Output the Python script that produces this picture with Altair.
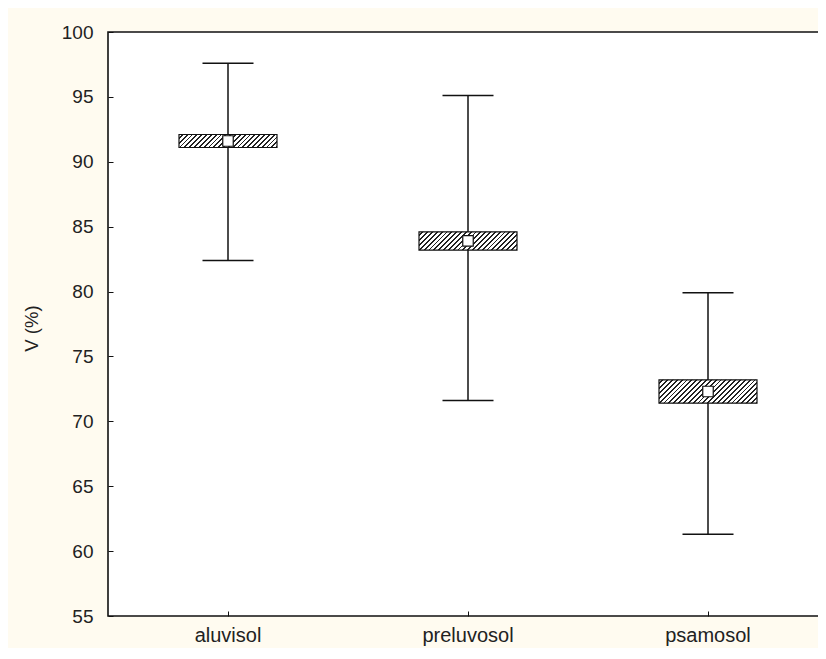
import altair as alt
import pandas as pd

# ---- data ----
categories = ["aluvisol", "preluvosol", "psamosol"]
means = [91.6, 83.9, 72.3]
box_lo = [91.1, 83.2, 71.4]
box_hi = [92.1, 84.6, 73.2]
whisk_lo = [82.4, 71.6, 61.3]
whisk_hi = [97.6, 95.1, 79.9]
y_ticks = [55, 60, 65, 70, 75, 80, 85, 90, 95, 100]
y_domain = [55, 100]

df = pd.DataFrame({
    "soil": categories,
    "mean": means,
    "box_lo": box_lo,
    "box_hi": box_hi,
    "whisk_lo": whisk_lo,
    "whisk_hi": whisk_hi,
})

PLOT_W, PLOT_H = 720, 584
BOX_W = 98
CAP_W = 51
FONT = "Liberation Sans"
INK = "#111111"


def hatch(lo, hi):
    """Diagonal '////' hatch built as a striped linear gradient."""
    h_px = (hi - lo) * PLOT_H / (y_domain[1] - y_domain[0])
    w_px = BOX_W
    r = h_px / w_px
    a = (1 + r) / (1 + r * r)
    n = max(1, round((w_px + h_px) / 4.8))
    frac = 0.38
    stops = []
    for k in range(n):
        s = k / n
        m = (k + 1 - frac) / n
        e = (k + 1) / n
        stops += [
            {"offset": s, "color": "#ffffff"},
            {"offset": m, "color": "#ffffff"},
            {"offset": m, "color": "#222222"},
            {"offset": e, "color": "#222222"},
        ]
    return {"gradient": "linear", "stops": stops,
            "x1": 0, "y1": 0, "x2": a, "y2": a * r}


xscale = alt.Scale(domain=categories, paddingInner=0, paddingOuter=0)
yscale = alt.Scale(domain=y_domain, nice=False, zero=False)

# whiskers (with main labelled axes)
whisker = alt.Chart(df).mark_rule(color=INK, strokeWidth=1.5).encode(
    x=alt.X("soil:N", scale=xscale, axis=alt.Axis(
        orient="bottom", title=None, labelAngle=0, ticks=False, domain=False,
        labelPadding=9, labelFontSize=20, labelFont=FONT, labelColor="#222")),
    y=alt.Y("whisk_lo:Q", scale=yscale, axis=alt.Axis(
        orient="left", title="V (%)", values=y_ticks, ticks=False, domain=False,
        grid=False, labelPadding=15, labelFontSize=19, labelFont=FONT,
        labelColor="#222", titleFont=FONT, titleFontSize=18.5,
        titleFontWeight="normal", titleColor="#222",
        titleX=-77, titleY=PLOT_H / 2 + 4, titleAngle=270,
        titleAlign="center", titleBaseline="middle")),
    y2="whisk_hi:Q",
)

# inner ticks: left edge (orient right shifted in), bottom edge (orient top shifted in)
boxes = []
for i, cat in enumerate(categories):
    if i == 0:
        xenc = alt.X("soil:N", scale=xscale, axis=alt.Axis(
            orient="top", offset=-PLOT_H, labels=False, domain=False,
            title=None, ticks=True, tickSize=5, tickColor=INK, tickWidth=1))
        yenc = alt.Y("box_lo:Q", scale=yscale, axis=alt.Axis(
            orient="right", offset=-PLOT_W, labels=False, domain=False,
            title=None, values=y_ticks, ticks=True, tickSize=5,
            tickColor=INK, tickWidth=1, grid=False))
    else:
        xenc = alt.X("soil:N", scale=xscale, axis=None)
        yenc = alt.Y("box_lo:Q", scale=yscale, axis=None)
    boxes.append(
        alt.Chart(df).transform_filter(alt.datum.soil == cat)
        .mark_bar(width=BOX_W, fill=hatch(box_lo[i], box_hi[i]),
                  stroke=INK, strokeWidth=1.2, opacity=1)
        .encode(x=xenc, y=yenc, y2="box_hi:Q")
    )

# caps (top cap layer carries right-edge inner ticks)
cap_hi = alt.Chart(df).mark_tick(size=CAP_W, thickness=1.5, color=INK, opacity=1).encode(
    x=alt.X("soil:N", scale=xscale, axis=None),
    y=alt.Y("whisk_hi:Q", scale=yscale, axis=alt.Axis(
        orient="left", offset=-PLOT_W, labels=False, domain=False, title=None,
        values=y_ticks, ticks=True, tickSize=5, tickColor=INK, tickWidth=1,
        grid=False)),
)
cap_lo = alt.Chart(df).mark_tick(size=CAP_W, thickness=1.5, color=INK, opacity=1).encode(
    x=alt.X("soil:N", scale=xscale, axis=None),
    y=alt.Y("whisk_lo:Q", scale=yscale, axis=None),
)

mean_pts = alt.Chart(df).mark_square(
    size=110, filled=True, fill="white", stroke=INK, strokeWidth=1.2, opacity=1
).encode(
    x=alt.X("soil:N", scale=xscale, axis=None),
    y=alt.Y("mean:Q", scale=yscale, axis=None),
)

chart = alt.layer(whisker, *boxes, cap_hi, cap_lo, mean_pts).resolve_axis(
    x="independent", y="independent"
).properties(
    width=PLOT_W, height=PLOT_H,
    autosize=alt.AutoSizeParams(type="none"),
    padding={"left": 100, "top": 24, "right": -10, "bottom": 32},
    background="#fffbf0",
).configure_view(
    stroke=INK, strokeWidth=1.6, fill="white"
)

chart.save("out.html", embed_options={"renderer": "svg", "actions": False})
